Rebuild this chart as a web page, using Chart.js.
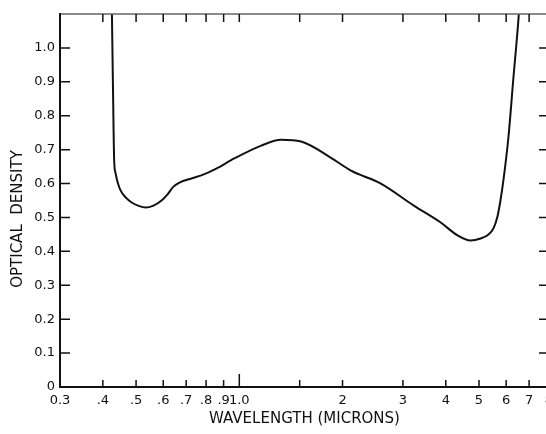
<!DOCTYPE html>
<html>
<head>
<meta charset="utf-8">
<script src="https://cdn.jsdelivr.net/npm/chart.js@4"></script>
<style>
html,body{margin:0;padding:0;background:#fff;overflow:hidden;width:546px;height:434px;}
canvas{display:block;}
</style>
</head>
<body>
<canvas id="c" width="560" height="434"></canvas>
<script>
// Data
const wavelength = [0.4245, 0.4287, 0.4316, 0.4360, 0.4419, 0.4509, 0.4662, 0.4853, 0.5086, 0.5330, 0.562, 0.5934, 0.6176, 0.6428, 0.669, 0.725, 0.775, 0.857, 0.967, 1.159, 1.325, 1.514, 1.851, 2.116, 2.587, 3.227, 3.866, 4.33, 4.726, 5.052, 5.33, 5.51, 5.66, 5.775, 5.89, 6.09, 6.30, 6.52, 6.58];
const density    = [1.15, 0.844, 0.668, 0.629, 0.603, 0.579, 0.559, 0.544, 0.534, 0.529, 0.535, 0.550, 0.568, 0.591, 0.603, 0.615, 0.624, 0.644, 0.674, 0.712, 0.729, 0.724, 0.676, 0.638, 0.600, 0.535, 0.485, 0.447, 0.432, 0.438, 0.450, 0.468, 0.503, 0.550, 0.609, 0.735, 0.912, 1.088, 1.15];

const xTickValues = [0.3, 0.4, 0.5, 0.6, 0.7, 0.8, 0.9, 1.0, 1.5, 2, 3, 4, 5, 6, 7, 8];
const xTickLabels = ['0.3', '.4', '.5', '.6', '.7', '.8', '.9', '1.0', '', '2', '3', '4', '5', '6', '7', '8'];
const yTickValues = [0, 0.1, 0.2, 0.3, 0.4, 0.5, 0.6, 0.7, 0.8, 0.9, 1.0];
const yTickLabels = ['0', '0.1', '0.2', '0.3', '0.4', '0.5', '0.6', '0.7', '0.8', '0.9', '1.0'];

const xTitle = 'WAVELENGTH (MICRONS)';
const yTitle = 'OPTICAL  DENSITY';

const FONT = "'DejaVu Sans', sans-serif";
const INK = '#111';

const framePlugin = {
  id: 'frame',
  afterDatasetsDraw(chart) {
    const {ctx, chartArea: {left, right, top, bottom}, scales: {x, y}} = chart;
    ctx.save();
    ctx.lineCap = 'butt';
    // top and right border (lighter)
    ctx.strokeStyle = '#666';
    ctx.lineWidth = 1.5;
    ctx.beginPath();
    ctx.moveTo(left, top); ctx.lineTo(right, top); ctx.lineTo(right, bottom);
    ctx.stroke();
    // left & bottom axes
    ctx.strokeStyle = INK;
    ctx.lineWidth = 2;
    ctx.beginPath();
    ctx.moveTo(left, top - 1); ctx.lineTo(left, bottom); ctx.lineTo(right, bottom);
    ctx.stroke();
    // y ticks (inward, both sides)
    ctx.lineWidth = 1.5;
    y.ticks.forEach(t => {
      const py = y.getPixelForValue(t.value);
      ctx.beginPath();
      ctx.moveTo(left, py); ctx.lineTo(left + 10, py);
      ctx.moveTo(right, py); ctx.lineTo(right - 10, py);
      ctx.stroke();
    });
    // x ticks (inward, bottom and top)
    x.ticks.forEach(t => {
      if (t.value === 0.3) return;
      const px = x.getPixelForValue(t.value);
      const len = t.value === 1 ? 13 : 7;
      ctx.beginPath();
      ctx.moveTo(px, bottom); ctx.lineTo(px, bottom - len);
      ctx.moveTo(px, top); ctx.lineTo(px, top + 8);
      ctx.stroke();
    });
    // y-axis title
    ctx.translate(18, 219);
    ctx.rotate(-Math.PI / 2);
    ctx.fillStyle = INK;
    ctx.font = "15px " + FONT;
    ctx.textAlign = 'center';
    ctx.textBaseline = 'middle';
    ctx.fillText(yTitle, 0, 0);
    ctx.restore();
  }
};

new Chart(document.getElementById('c'), {
  type: 'line',
  data: {
    datasets: [{
      data: wavelength.map((w, i) => ({x: w, y: density[i]})),
      borderColor: INK,
      borderWidth: 2,
      pointRadius: 0,
      fill: false,
      cubicInterpolationMode: 'monotone'
    }]
  },
  options: {
    responsive: false,
    animation: false,
    devicePixelRatio: 1,
    layout: {padding: {left: 0, right: 11, top: 14, bottom: 0}},
    plugins: {legend: {display: false}, tooltip: {enabled: false}},
    scales: {
      x: {
        type: 'logarithmic',
        min: 0.3,
        max: 8,
        afterBuildTicks: s => { s.ticks = xTickValues.map(v => ({value: v})); },
        afterFit: s => { s.height = 47; },
        grid: {display: false, drawTicks: false},
        border: {display: false},
        ticks: {
          autoSkip: false,
          maxRotation: 0,
          minRotation: 0,
          padding: 6,
          color: INK,
          font: {family: FONT, size: 13},
          callback: (v) => { const i = xTickValues.indexOf(v); return i >= 0 ? xTickLabels[i] : ''; }
        },
        title: {
          display: true,
          text: xTitle,
          color: INK,
          font: {family: FONT, size: 15},
          padding: {top: 0, bottom: 6}
        }
      },
      y: {
        min: 0,
        max: 1.1,
        afterBuildTicks: s => { s.ticks = yTickValues.map(v => ({value: v})); },
        afterFit: s => { s.width = 60; },
        grid: {display: false, drawTicks: false},
        border: {display: false},
        ticks: {
          padding: 5,
          color: INK,
          font: {family: FONT, size: 13},
          callback: (v) => { const i = yTickValues.findIndex(t => Math.abs(t - v) < 1e-9); return i >= 0 ? yTickLabels[i] : ''; }
        },
        title: {display: false}
      }
    }
  },
  plugins: [framePlugin]
});
</script>
</body>
</html>
